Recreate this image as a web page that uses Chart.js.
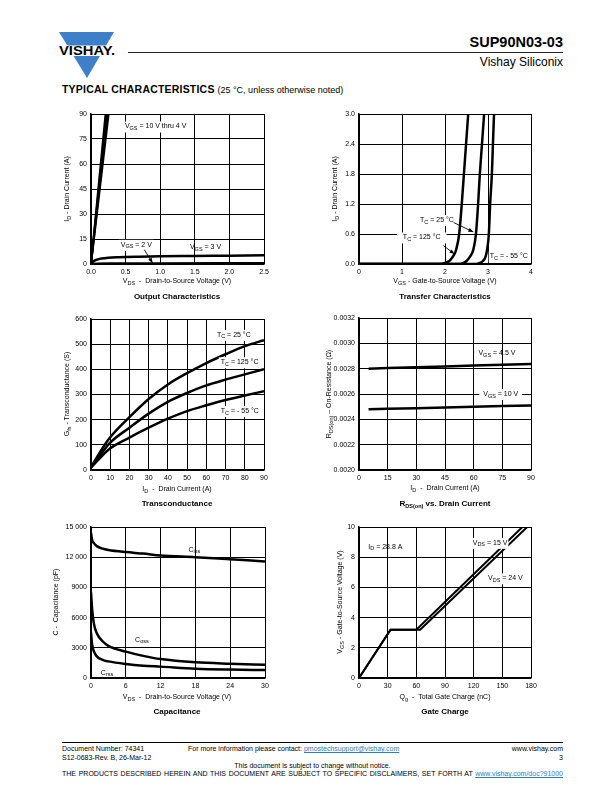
<!DOCTYPE html>
<html><head><meta charset="utf-8">
<script src="https://cdn.jsdelivr.net/npm/chart.js@4.4.1/dist/chart.umd.min.js"></script>
<style>
body{margin:0;background:#fff;}
#page{position:relative;width:612px;height:792px;overflow:hidden;font-family:"Liberation Sans",Arial,Helvetica,sans-serif;color:#000;background:#fff;}
.abs{position:absolute;white-space:nowrap;}
canvas{position:absolute;}
.ax{font-size:7px;line-height:8px;}
.ax sub,.cap sub{font-size:5.5px;vertical-align:-2px;line-height:0;}
.cap{font-size:8px;line-height:9px;font-weight:bold;}
.ft{font-size:7px;line-height:8px;}
.ft a{color:#2a7fc0;text-decoration:underline;}
</style></head>
<body><div id="page">
<svg class="abs" style="left:0;top:0" width="612" height="100">
  <polygon points="59,32 114,32 87,78" fill="#3d7fc9"/>
  <rect x="56" y="45.5" width="62" height="10.5" fill="#fff"/>
  <text x="59" y="55" font-family="Liberation Sans, Arial" font-weight="bold" font-size="12" textLength="56" lengthAdjust="spacingAndGlyphs">VISHAY.</text>
  <line x1="128" y1="52.5" x2="563" y2="52.5" stroke="#222" stroke-width="1"/>
</svg>
<div class="abs" style="right:49px;top:34px;font-size:14.5px;font-weight:bold;">SUP90N03-03</div>
<div class="abs" style="right:49px;top:55px;font-size:12px;">Vishay Siliconix</div>
<div class="abs" style="left:62px;top:83px;font-size:10.5px;"><span style="font-weight:900;letter-spacing:0.2px;">TYPICAL CHARACTERISTICS</span> <span style="font-size:9px;">(25 °C, unless otherwise noted)</span></div>

<div class="abs" style="left:62px;top:742px;width:501px;height:0;border-top:1px solid #000;"></div>
<div class="abs ft" style="left:62px;top:745px;">Document Number: 74341</div>
<div class="abs ft" style="left:188px;top:745px;">For more information please contact: <a>pmostechsupport@vishay.com</a></div>
<div class="abs ft" style="right:49px;top:745px;">www.vishay.com</div>
<div class="abs ft" style="left:62px;top:754px;">S12-0683-Rev. B, 26-Mar-12</div>
<div class="abs ft" style="right:49px;top:754px;">3</div>
<div class="abs ft" style="left:62px;width:501px;text-align:center;top:762px;">This document is subject to change without notice.</div>
<div class="abs ft" style="left:62px;width:501px;top:770px;text-align:justify;text-align-last:justify;">THE PRODUCTS DESCRIBED HEREIN AND THIS DOCUMENT ARE SUBJECT TO SPECIFIC DISCLAIMERS, SET FORTH AT <a>www.vishay.com/doc?91000</a></div>
</div>
<script>
// ---------- Output Characteristics ----------
const outXTicks = [0, 0.5, 1.0, 1.5, 2.0, 2.5];
const outXLabels = ['0.0', '0.5', '1.0', '1.5', '2.0', '2.5'];
const outYTicks = [0, 15, 30, 45, 60, 75, 90];
const outIdSteep = [0, 90];
const outVds10V = [0, 0.210];
const outVds6V = [0, 0.225];
const outVds5V = [0, 0.240];
const outVds4V = [0, 0.255];
const outVds3V = [0, 0.02, 0.05, 0.10, 0.15, 0.25, 0.40, 0.70, 1.0, 1.5, 2.0, 2.5];
const outId3V = [0, 1.0, 2.0, 2.8, 3.3, 3.8, 4.1, 4.4, 4.6, 4.8, 5.0, 5.2];
const outVds2V = [0, 0.1, 0.3, 1.0, 2.5];
const outId2V = [0, 0.2, 0.3, 0.35, 0.4];

// ---------- Transfer Characteristics ----------
const trXTicks = [0, 1, 2, 3, 4];
const trYTicks = [0, 0.6, 1.2, 1.8, 2.4, 3.0];
const trYLabels = ['0.0', '0.6', '1.2', '1.8', '2.4', '3.0'];
const trVgs125 = [0, 1.90, 2.00, 2.10, 2.16, 2.22, 2.26, 2.33, 2.39, 2.44, 2.49, 2.54];
const trId125 = [0, 0, 0.02, 0.06, 0.12, 0.20, 0.29, 0.60, 1.20, 1.80, 2.40, 3.00];
const trVgs25 = [0, 2.35, 2.43, 2.50, 2.56, 2.62, 2.66, 2.72, 2.77, 2.81, 2.86, 2.91];
const trId25 = [0, 0, 0.02, 0.06, 0.12, 0.20, 0.29, 0.60, 1.20, 1.80, 2.40, 3.00];
const trVgsM55 = [0, 2.72, 2.81, 2.88, 2.93, 2.96, 2.98, 3.02, 3.05, 3.09, 3.115, 3.14];
const trIdM55 = [0, 0, 0.02, 0.06, 0.12, 0.20, 0.29, 0.60, 1.20, 1.80, 2.40, 3.00];

// ---------- Transconductance ----------
const gfsXTicks = [0, 10, 20, 30, 40, 50, 60, 70, 80, 90];
const gfsYTicks = [0, 100, 200, 300, 400, 500, 600];
const gfsId = [0, 5, 10, 20, 30, 40, 50, 60, 70, 80, 90];
const gfs25 = [10, 75, 130, 210, 282, 340, 385, 425, 460, 492, 516];
const gfs125 = [10, 62, 109, 168, 224, 271, 306, 336, 359, 380, 401];
const gfsM55 = [10, 50, 86, 129, 168, 204, 234, 257, 278, 296, 313];

// ---------- RDS(on) vs Drain Current ----------
const rdsXTicks = [0, 15, 30, 45, 60, 75, 90];
const rdsYTicks = [0.0020, 0.0022, 0.0024, 0.0026, 0.0028, 0.0030, 0.0032];
const rdsYLabels = ['0.0020', '0.0022', '0.0024', '0.0026', '0.0028', '0.0030', '0.0032'];
const rdsId = [5, 15, 30, 45, 60, 75, 90];
const rds45V = [0.002800, 0.002806, 0.002812, 0.002818, 0.002825, 0.002831, 0.002837];
const rds10V = [0.002479, 0.002483, 0.002488, 0.002494, 0.002499, 0.002505, 0.002510];

// ---------- Capacitance ----------
const capXTicks = [0, 6, 12, 18, 24, 30];
const capYTicks = [0, 3000, 6000, 9000, 12000, 15000];
const capYLabels = ['0', '3000', '6000', '9000', '12 000', '15 000'];
const capVds = [0, 0.2, 0.5, 1, 2, 3, 6, 9, 12, 18, 24, 30];
const capCiss = [14400, 13700, 13400, 13100, 12850, 12720, 12510, 12360, 12170, 12000, 11790, 11580];
const capCoss = [8500, 6800, 5400, 4450, 3650, 3190, 2620, 2200, 1880, 1560, 1420, 1320];
const capCrss = [4500, 3300, 2650, 2150, 1800, 1650, 1390, 1220, 1130, 930, 840, 790];

// ---------- Gate Charge ----------
const gcXTicks = [0, 30, 60, 90, 120, 150, 180];
const gcYTicks = [0, 2, 4, 6, 8, 10];
const gcQg15V = [0, 33, 60, 171];
const gcVgs15V = [0, 3.2, 3.2, 10];
const gcQg24V = [0, 33, 64, 176];
const gcVgs24V = [0, 3.2, 3.2, 10];

// ================= rendering =================
const page = document.getElementById('page');
const FONT = '"Liberation Sans", Arial, sans-serif';
const MAIN = '7px ' + FONT, SUB = '5.5px ' + FONT;

function zip(xs, ys) { return xs.map((x, i) => ({x: x, y: ys[i]})); }
function parseRich(s) {
  const out = []; const re = /_\{([^}]*)\}/g; let last = 0, m;
  while ((m = re.exec(s))) { if (m.index > last) out.push({t: s.slice(last, m.index)}); out.push({t: m[1], sub: true}); last = re.lastIndex; }
  if (last < s.length) out.push({t: s.slice(last)});
  return out;
}
const notesPlugin = {
  id: 'notes',
  afterDatasetsDraw(chart, args, opts) {
    const ctx = chart.ctx, xs = chart.scales.x, ys = chart.scales.y;
    ctx.save();
    (opts.items || []).forEach(it => {
      const px = xs.getPixelForValue(it.x), py = ys.getPixelForValue(it.y);
      const parts = parseRich(it.text); let w = 0;
      parts.forEach(p => { ctx.font = p.sub ? SUB : MAIN; p.w = ctx.measureText(p.t).width; w += p.w; });
      let x0 = it.align === 'right' ? px - w : px;
      if (it.bg) { ctx.fillStyle = '#fff'; ctx.fillRect(x0 - it.bg, py - 5, w + 2 * it.bg, 11); }
      ctx.fillStyle = '#000'; ctx.textBaseline = 'middle';
      parts.forEach(p => { ctx.font = p.sub ? SUB : MAIN; ctx.fillText(p.t, x0, py + (p.sub ? 2 : 0)); x0 += p.w; });
    });
    (opts.arrows || []).forEach(a => {
      const x1 = xs.getPixelForValue(a.from[0]), y1 = ys.getPixelForValue(a.from[1]);
      const x2 = xs.getPixelForValue(a.to[0]), y2 = ys.getPixelForValue(a.to[1]);
      ctx.strokeStyle = '#000'; ctx.fillStyle = '#000'; ctx.lineWidth = 0.9;
      ctx.beginPath(); ctx.moveTo(x1, y1); ctx.lineTo(x2, y2); ctx.stroke();
      const an = Math.atan2(y2 - y1, x2 - x1), L = 5, W = 2;
      ctx.beginPath(); ctx.moveTo(x2, y2);
      ctx.lineTo(x2 - L * Math.cos(an) + W * Math.sin(an), y2 - L * Math.sin(an) - W * Math.cos(an));
      ctx.lineTo(x2 - L * Math.cos(an) - W * Math.sin(an), y2 - L * Math.sin(an) + W * Math.cos(an));
      ctx.closePath(); ctx.fill();
    });
    ctx.restore();
  }
};

function axis(ticks, labels, isX, min, max) {
  return {
    type: 'linear', min: min, max: max,
    afterBuildTicks: s => { s.ticks = ticks.map(v => ({value: v})); },
    ticks: { autoSkip: false, maxRotation: 0, color: '#000', font: {family: FONT, size: 7}, padding: isX ? 4 : 4,
      callback: (v, i) => labels ? labels[i] : String(v) },
    grid: { color: '#000', lineWidth: 1, drawTicks: false },
    border: { display: true, color: '#000', width: 1.5 },
    afterFit: s => {
      if (isX) { s.height = 18; s.paddingLeft = 0; s.paddingRight = 0; }
      else { s.width = 48; s.paddingTop = 0; s.paddingBottom = 0; }
    }
  };
}
function line(pts, opt) {
  return Object.assign({ data: pts, borderColor: '#000', borderWidth: 2.5, pointRadius: 0, fill: false,
    tension: 0, parsing: false, normalized: true }, opt || {});
}
function makeChart(rect, xAx, yAx, datasets, notes) {
  const PL = 48, PT = 10, PR = 16, PB = 18;
  const c = document.createElement('canvas');
  const W = rect.w + PL + PR, H = rect.h + PT + PB;
  c.width = W; c.height = H;
  c.style.left = (rect.l - PL) + 'px'; c.style.top = (rect.t - PT) + 'px';
  c.style.width = W + 'px'; c.style.height = H + 'px';
  page.appendChild(c);
  new Chart(c, {
    type: 'line',
    data: { datasets: datasets },
    options: {
      responsive: false, animation: false, devicePixelRatio: 1,
      layout: { padding: { left: 0, top: PT, right: PR, bottom: 0 } },
      plugins: { legend: {display: false}, tooltip: {enabled: false}, notes: notes },
      scales: { x: xAx, y: yAx }
    },
    plugins: [notesPlugin]
  });
}
function place(html, cx, cy, cls, rot) {
  const d = document.createElement('div');
  d.className = 'abs ' + cls; d.innerHTML = html;
  d.style.left = cx + 'px'; d.style.top = cy + 'px';
  d.style.transform = 'translate(-50%,-50%)' + (rot ? ' rotate(-90deg)' : '');
  page.appendChild(d);
}
const smooth = { cubicInterpolationMode: 'monotone' };

// Chart 1
makeChart({l: 91, t: 114, w: 173, h: 150},
  axis(outXTicks, outXLabels, true, 0, 2.5), axis(outYTicks, null, false, 0, 90),
  [ line(zip(outVds10V, outIdSteep), {borderWidth: 2}), line(zip(outVds6V, outIdSteep), {borderWidth: 2}),
    line(zip(outVds5V, outIdSteep), {borderWidth: 2}), line(zip(outVds4V, outIdSteep), {borderWidth: 2}),
    line(zip(outVds3V, outId3V), smooth), line(zip(outVds2V, outId2V), smooth) ],
  { items: [ {x: 0.49, y: 82.5, text: 'V_{GS} = 10 V thru 4 V', bg: 1},
             {x: 0.43, y: 11.5, text: 'V_{GS} = 2 V', bg: 2},
             {x: 1.43, y: 10, text: 'V_{GS} = 3 V', bg: 0} ],
    arrows: [ {from: [0.77, 8.6], to: [0.89, 0.6]} ] });

// Chart 2
makeChart({l: 359, t: 114, w: 172, h: 150},
  axis(trXTicks, null, true, 0, 4), axis(trYTicks, trYLabels, false, 0, 3.0),
  [ line(zip(trVgs125, trId125), smooth), line(zip(trVgs25, trId25), smooth), line(zip(trVgsM55, trIdM55), smooth) ],
  { items: [ {x: 1.42, y: 0.88, text: 'T_{C} = 25 °C', bg: 2},
             {x: 1.02, y: 0.53, text: 'T_{C} = 125 °C', bg: 6},
             {x: 3.04, y: 0.15, text: 'T_{C} = - 55 °C', bg: 1} ],
    arrows: [ {from: [2.2, 0.83], to: [2.66, 0.64]}, {from: [1.96, 0.37], to: [2.22, 0.2]} ] });

// Chart 3
makeChart({l: 91, t: 319, w: 173, h: 151},
  axis(gfsXTicks, null, true, 0, 90), axis(gfsYTicks, null, false, 0, 600),
  [ line(zip(gfsId, gfs25), smooth), line(zip(gfsId, gfs125), smooth), line(zip(gfsId, gfsM55), smooth) ],
  { items: [ {x: 65.5, y: 537, text: 'T_{C} = 25 °C', bg: 2},
             {x: 67.5, y: 428, text: 'T_{C} = 125 °C', bg: 2},
             {x: 67.5, y: 234, text: 'T_{C} = - 55 °C', bg: 2} ] });

// Chart 4
makeChart({l: 359, t: 318, w: 172, h: 152},
  axis(rdsXTicks, null, true, 0, 90), axis(rdsYTicks, rdsYLabels, false, 0.0020, 0.0032),
  [ line(zip(rdsId, rds45V)), line(zip(rdsId, rds10V)) ],
  { items: [ {x: 62.5, y: 0.00292, text: 'V_{GS} = 4.5 V', bg: 0},
             {x: 65, y: 0.0026, text: 'V_{GS} = 10 V', bg: 4} ] });

// Chart 5
makeChart({l: 91, t: 527, w: 174, h: 151},
  axis(capXTicks, null, true, 0, 30), axis(capYTicks, capYLabels, false, 0, 15000),
  [ line(zip(capVds, capCiss), smooth), line(zip(capVds, capCoss), smooth), line(zip(capVds, capCrss), smooth) ],
  { items: [ {x: 16.8, y: 12750, text: 'C_{iss}', bg: 0},
             {x: 7.6, y: 3800, text: 'C_{oss}', bg: 0},
             {x: 1.7, y: 500, text: 'C_{rss}', bg: 0} ] });

// Chart 6
makeChart({l: 359, t: 527, w: 172, h: 151},
  axis(gcXTicks, null, true, 0, 180), axis(gcYTicks, null, false, 0, 10),
  [ line(zip(gcQg15V, gcVgs15V), {borderWidth: 2}), line(zip(gcQg24V, gcVgs24V), {borderWidth: 2}) ],
  { items: [ {x: 9.7, y: 8.7, text: 'I_{D} = 28.8 A', bg: 0},
             {x: 119, y: 8.95, text: 'V_{DS} = 15 V', bg: 1},
             {x: 135, y: 6.6, text: 'V_{DS} = 24 V', bg: 1} ] });

// Axis titles and captions
place('I<sub>D</sub> - Drain Current (A)', 67, 189, 'ax', true);
place('V<sub>DS</sub> &nbsp;- &nbsp;Drain-to-Source Voltage (V)', 177, 281, 'ax');
place('Output Characteristics', 177, 296, 'cap');
place('I<sub>D</sub> - Drain Current (A)', 335, 189, 'ax', true);
place('V<sub>GS</sub> - Gate-to-Source Voltage (V)', 445, 281, 'ax');
place('Transfer Characteristics', 445, 296, 'cap');
place('G<sub>fs</sub> - Transconductance (S)', 67, 394, 'ax', true);
place('I<sub>D</sub> &nbsp;- &nbsp;Drain Current (A)', 177, 489, 'ax');
place('Transconductance', 177, 503, 'cap');
place('R<sub>DS(on)</sub> – On-Resistance (Ω)', 329, 394, 'ax', true);
place('I<sub>D</sub> &nbsp;- &nbsp;Drain Current (A)', 445, 488, 'ax');
place('R<sub>DS(on)</sub> vs. Drain Current', 445, 503, 'cap');
place('C - &nbsp;Capacitance (pF)', 56, 602, 'ax', true);
place('V<sub>DS</sub> &nbsp;- &nbsp;Drain-to-Source Voltage (V)', 177, 697, 'ax');
place('Capacitance', 177, 711, 'cap');
place('V<sub>GS</sub> - Gate-to-Source Voltage (V)', 340, 602, 'ax', true);
place('Q<sub>g</sub> &nbsp;- &nbsp;Total Gate Charge (nC)', 445, 697, 'ax');
place('Gate Charge', 445, 711, 'cap');
</script>
</body></html>
